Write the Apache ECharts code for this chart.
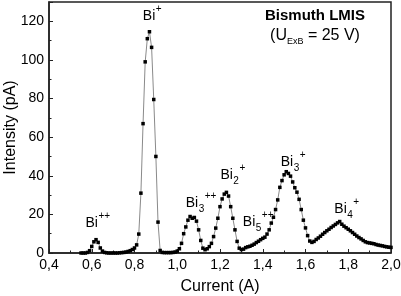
<!DOCTYPE html>
<html>
<head>
<meta charset="utf-8">
<script src="https://cdn.jsdelivr.net/npm/echarts@6/dist/echarts.min.js"></script>
<style>
  html, body { margin: 0; padding: 0; background: #fff; }
  #chart { width: 401px; height: 296px; }
</style>
</head>
<body>
<div id="chart"></div>
<script>
// measured current (A)
var current = [
  0.55, 0.56, 0.57, 0.58, 0.59, 0.60, 0.61, 0.62, 0.63, 0.64,
  0.65, 0.66, 0.67, 0.68, 0.69, 0.70, 0.71, 0.72, 0.73, 0.74,
  0.75, 0.76, 0.77, 0.78, 0.79, 0.80, 0.81, 0.82, 0.83, 0.84,
  0.85, 0.86, 0.87, 0.88, 0.89, 0.90, 0.91, 0.92, 0.93, 0.94,
  0.95, 0.96, 0.97, 0.98, 0.99, 1.00, 1.01, 1.02, 1.03, 1.04,
  1.05, 1.06, 1.07, 1.08, 1.09, 1.10, 1.11, 1.12, 1.13, 1.14,
  1.15, 1.16, 1.17, 1.18, 1.19, 1.20, 1.21, 1.22, 1.23, 1.24,
  1.25, 1.26, 1.27, 1.28, 1.29, 1.30, 1.31, 1.32, 1.33, 1.34,
  1.35, 1.36, 1.37, 1.38, 1.39, 1.40, 1.41, 1.42, 1.43, 1.44,
  1.45, 1.46, 1.47, 1.48, 1.49, 1.50, 1.51, 1.52, 1.53, 1.54,
  1.55, 1.56, 1.57, 1.58, 1.59, 1.60, 1.61, 1.62, 1.63, 1.64,
  1.65, 1.66, 1.67, 1.68, 1.69, 1.70, 1.71, 1.72, 1.73, 1.74,
  1.75, 1.76, 1.77, 1.78, 1.79, 1.80, 1.81, 1.82, 1.83, 1.84,
  1.85, 1.86, 1.87, 1.88, 1.89, 1.90, 1.91, 1.92, 1.93, 1.94,
  1.95, 1.96, 1.97, 1.98, 1.99, 2.00
];
// intensity (pA)
var intensity = [
  0, 0, 0, 0.3, 1.2, 3.4, 5.8, 6.9, 5.5, 2.6,
  1.0, 0.3, 0.1, 0, 0, 0, 0, 0, 0.1, 0.2,
  0.3, 0.5, 0.8, 1.2, 1.8, 2.6, 4.2, 9.8, 31, 67,
  99, 111, 114.6, 106.5, 79.5, 50, 16, 1.3, 0.3, 0.2,
  0.2, 0.2, 0.2, 0.3, 0.5, 1.0, 2.2, 5, 10, 13.5,
  17, 18.9, 18, 18.4, 16.5, 12, 6.5, 2.5, 1.7, 2.2,
  3.3, 5, 8.5, 12.9, 18, 24, 28, 30.5, 31.4, 29.5,
  24, 18, 12, 6, 2.5, 1.8, 2, 2.8, 3.2, 3.5,
  4, 4.6, 5.4, 6.1, 6.9, 7.6, 8.2, 9.8, 12, 15.5,
  18.5, 22.5, 27.5, 34, 37.5, 40.5, 42.1, 41.2, 39.8, 36.8,
  33.8, 31.5, 27.8, 22.5, 17, 13, 9, 6.2, 5.5, 6,
  7, 7.8, 8.7, 9.7, 10.6, 11.5, 12.3, 13.2, 14, 14.8,
  15.6, 16.3, 14.9, 13.9, 13.1, 12.3, 11.5, 10.6, 9.7, 8.8,
  8, 7.3, 6.5, 5.8, 5.4, 5.2, 5, 4.8, 4.4, 4.1,
  3.9, 3.7, 3.4, 3.2, 3.0, 2.9
];

// peak annotations (data coordinates of the "Bi" text centre)
var peakSub = ['', '', '3', '2', '5', '3', '4'];
var peakSup = ['++', '+', '++', '+', '++', '+', '+'];
var peakX = [0.600, 0.868, 1.069, 1.231, 1.336, 1.513, 1.764];
var peakY = [15.6, 122.8, 25.8, 40.4, 15.8, 47.2, 22.8];

var FONT = '"Liberation Sans", Arial, sans-serif';

var data = [];
for (var i = 0; i < current.length; i++) {
  data.push([current[i], intensity[i]]);
}

var chart = echarts.init(document.getElementById('chart'));
var option = {
  animation: false,
  backgroundColor: '#fff',
  grid: {
    left: 49, right: 10, top: 2, bottom: 43,
    containLabel: false,
    outerBoundsMode: 'none',
    show: true,
    borderColor: '#222',
    borderWidth: 1.5
  },
  xAxis: {
    type: 'value',
    min: 0.4,
    max: 2.0,
    interval: 0.2,
    name: 'Current (A)',
    nameLocation: 'middle',
    nameGap: 26,
    nameMoveOverlap: false,
    nameTextStyle: { fontFamily: FONT, fontSize: 16, color: '#000' },
    axisLine: { lineStyle: { color: '#222', width: 1.5 } },
    axisTick: { inside: true, length: 4, lineStyle: { color: '#222' } },
    minorTick: { show: true, splitNumber: 2, length: 2.5, lineStyle: { color: '#222' } },
    splitLine: { show: false },
    axisLabel: {
      fontFamily: FONT, fontSize: 14, color: '#000', margin: 5,
      formatter: function (v) { return v.toFixed(1).replace('.', ','); }
    }
  },
  yAxis: {
    type: 'value',
    min: 0,
    max: 130,
    interval: 20,
    name: 'Intensity (pA)',
    nameLocation: 'middle',
    nameGap: 30,
    nameMoveOverlap: false,
    nameTextStyle: { fontFamily: FONT, fontSize: 16, color: '#000' },
    axisLine: { show: true, lineStyle: { color: '#222', width: 1.5 } },
    axisTick: { show: true, inside: true, length: 4, lineStyle: { color: '#222' } },
    minorTick: { show: true, splitNumber: 2, length: 2.5, lineStyle: { color: '#222' } },
    splitLine: { show: false },
    axisLabel: {
      fontFamily: FONT, fontSize: 14, color: '#000', margin: 5,
      formatter: function (v) { return v > 125 ? '' : String(v); }
    }
  },
  series: [{
    type: 'line',
    data: data,
    symbol: 'rect',
    symbolSize: 3.5,
    showAllSymbol: true,
    lineStyle: { color: '#8a8a8a', width: 1 },
    itemStyle: { color: '#000', borderWidth: 0 }
  }]
};
chart.setOption(option);

// text labels: title, subtitle and peak names with sub/superscripts
var ctx = document.createElement('canvas').getContext('2d');
function tw(t, f) { ctx.font = f; return ctx.measureText(t).width; }

var els = [];
els.push({
  type: 'text', x: 315, y: 16,
  style: { text: 'Bismuth LMIS', font: 'bold 15px ' + FONT, fill: '#000', align: 'center', verticalAlign: 'middle' }
});
var f1 = '16px ' + FONT, f2 = '9px ' + FONT;
var totalW = tw('(U', f1) + tw('ExB', f2) + tw(' = 25 V)', f1);
var sx = 315 - totalW / 2;
els.push({ type: 'text', x: sx, y: 36, style: { text: '(U', font: f1, fill: '#000', align: 'left', verticalAlign: 'middle' } });
sx += tw('(U', f1);
els.push({ type: 'text', x: sx, y: 42, style: { text: 'ExB', font: f2, fill: '#000', align: 'left', verticalAlign: 'middle' } });
sx += tw('ExB', f2);
els.push({ type: 'text', x: sx, y: 36, style: { text: ' = 25 V)', font: f1, fill: '#000', align: 'left', verticalAlign: 'middle' } });

var fb = '14px ' + FONT, fs = '10px ' + FONT;
for (var k = 0; k < peakX.length; k++) {
  var p = chart.convertToPixel({ gridIndex: 0 }, [peakX[k], peakY[k]]);
  var w = tw('Bi', fb);
  var x0 = p[0] - w / 2;
  els.push({ type: 'text', x: x0, y: p[1], style: { text: 'Bi', font: fb, fill: '#000', align: 'left', verticalAlign: 'middle' } });
  var xs = x0 + w + 0.5;
  if (peakSub[k]) {
    els.push({ type: 'text', x: xs, y: p[1] + 6, style: { text: peakSub[k], font: fs, fill: '#000', align: 'left', verticalAlign: 'middle' } });
    xs += tw(peakSub[k], fs) + 0.5;
  }
  els.push({ type: 'text', x: xs, y: p[1] - 7, style: { text: peakSup[k], font: fs, fill: '#000', align: 'left', verticalAlign: 'middle' } });
}
chart.setOption({ graphic: els });
</script>
</body>
</html>
